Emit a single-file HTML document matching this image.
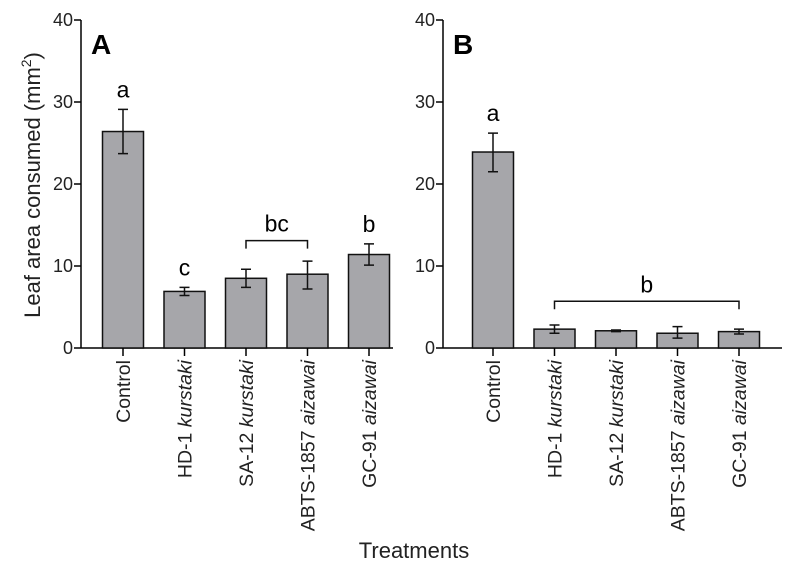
<!DOCTYPE html>
<html><head><meta charset="utf-8"><style>
body{margin:0;background:#fff}
svg{display:block;font-family:"Liberation Sans",Arial,sans-serif}
</style></head><body>
<svg id="chart" width="791" height="580" viewBox="0 0 791 580"></svg>
<script>
const categories=["Control","HD-1|kurstaki","SA-12|kurstaki","ABTS-1857|aizawai","GC-91|aizawai"];
const valuesA=[26.4,6.9,8.5,9.0,11.4];
const errLoA=[23.7,6.4,7.4,7.2,10.1];
const errHiA=[29.1,7.4,9.6,10.6,12.7];
const lettersA=["a","c","","","b"];
const valuesB=[23.9,2.3,2.1,1.8,2.0];
const errLoB=[21.5,1.8,2.0,1.2,1.7];
const errHiB=[26.2,2.8,2.2,2.6,2.3];
const lettersB=["a","","","",""];
const yTicks=[0,10,20,30,40];
const NS="http://www.w3.org/2000/svg";
const svg=document.getElementById('chart');
function mk(tag,attrs,parent){const e=document.createElementNS(NS,tag);for(const k in attrs)e.setAttribute(k,attrs[k]);(parent||svg).appendChild(e);return e;}
const y0=348,y40=20;
function yS(v){return y0-(v/40)*(y0-y40);}
function drawPanel(p){
  const g=mk('g',{});
  
  
  const xS=i=>p.x0+i*p.step;
  const ax=mk('line',{x1:p.ax,y1:y40,x2:p.ax,y2:y0,stroke:'#000','stroke-width':1.5},g);
  
  const xa=mk('line',{x1:p.ax,y1:y0,x2:p.axEnd,y2:y0,stroke:'#000','stroke-width':1.5},g);
  
  yTicks.forEach(t=>{
    mk('line',{x1:p.ax-7,y1:yS(t),x2:p.ax,y2:yS(t),stroke:'#000','stroke-width':1.5},g);
    const tl=mk('text',{x:p.ax-8,y:yS(t)+6,'text-anchor':'end','font-size':18,fill:'#222'},g);
    tl.textContent=t;
    
  });
  const pl=mk('text',{x:p.ax+10,y:54,'font-size':28,'font-weight':'bold'},g);
  pl.textContent=p.id;
  
  p.vals.forEach((v,i)=>{
    const cx=xS(i),w=41;
    const r=mk('rect',{x:cx-w/2,y:yS(v),width:w,height:y0-yS(v),fill:'#a6a6aa',stroke:'#111','stroke-width':1.5},g);
    
    const lo=yS(p.lo[i]),hi=yS(p.hi[i]);
    const eb=mk('path',{d:`M${cx},${lo}V${hi}M${cx-5},${lo}H${cx+5}M${cx-5},${hi}H${cx+5}`,stroke:'#111','stroke-width':1.5,fill:'none'},g);
    
    mk('line',{x1:cx,y1:y0,x2:cx,y2:y0+8,stroke:'#000','stroke-width':1.5},g);
    if(p.letters[i]){
      const lt=mk('text',{x:cx,y:hi-12,'text-anchor':'middle','font-size':23},g);
      lt.textContent=p.letters[i];
      
    }
    const parts=categories[i].split('|');
    const t=mk('text',{transform:`translate(${cx+7},360) rotate(-90)`,'text-anchor':'end','font-size':19.5,fill:'#222'},g);
    
    const s1=mk('tspan',{},t);s1.textContent=parts[0];
    if(parts[1]){const s2=mk('tspan',{'font-style':'italic'},t);s2.textContent=' '+parts[1];}
  });
  const b=p.bracket;
  const x1=xS(b.from),x2=xS(b.to),by=yS(b.v);
  const br=mk('path',{d:`M${x1},${by+8}V${by}H${x2}V${by+8}`,stroke:'#111','stroke-width':1.5,fill:'none'},g);
  
  const bt=mk('text',{x:(x1+x2)/2,y:by-9,'text-anchor':'middle','font-size':23},g);
  bt.textContent=b.label;
  
}
drawPanel({id:'A',ax:81,axEnd:393,x0:123,step:61.5,vals:valuesA,lo:errLoA,hi:errHiA,letters:lettersA,bracket:{from:2,to:3,v:13.1,label:'bc'}});
drawPanel({id:'B',ax:443,axEnd:782,x0:493,step:61.5,vals:valuesB,lo:errLoB,hi:errHiB,letters:lettersB,bracket:{from:1,to:4,v:5.7,label:'b'}});
const yt=mk('text',{transform:'translate(40,185) rotate(-90)','text-anchor':'middle','font-size':22,fill:'#222'});

yt.innerHTML='Leaf area consumed (mm<tspan dy="-9" font-size="14">2</tspan><tspan dy="9">)</tspan>';
const xt=mk('text',{x:414,y:558,'text-anchor':'middle','font-size':22,fill:'#222'});
xt.textContent='Treatments';

</script>
</body></html>
